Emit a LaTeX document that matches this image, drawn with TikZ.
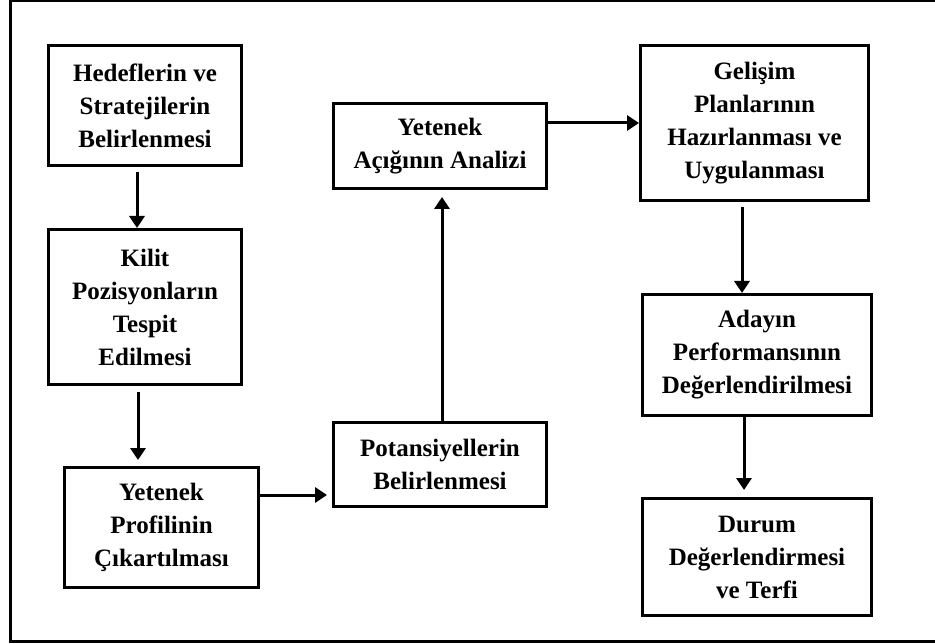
\documentclass[tikz,border=0pt]{standalone}
\usepackage{fontspec}
\setmainfont{Liberation Serif}
\usetikzlibrary{arrows.meta}
\tikzset{
  box/.style={draw, line width=3pt, rectangle, align=center, inner sep=0pt,
    font=\bfseries\fontsize{25}{33}\selectfont},
  arr/.style={line width=3pt, -{Triangle[length=12pt,width=15pt]}},
}
\begin{document}
\begin{tikzpicture}[x=1pt,y=-1pt]
\useasboundingbox (0,0) rectangle (935,644);
% outer frame (open on the right)
\draw[line width=2.5pt] (935,1) -- (10.5,1) -- (10.5,641.3) -- (935,641.3);
% boxes
\node[box, minimum width=193pt, minimum height=120pt] (b1) at (145,105.5) {Hedeflerin ve\\Stratejilerin\\Belirlenmesi};
\node[box, minimum width=193pt, minimum height=155pt] (b2) at (145,307) {Kilit\\Pozisyonların\\Tespit\\Edilmesi};
\node[box, minimum width=194pt, minimum height=120pt] (b3) at (161.5,527.5) {Yetenek\\Profilinin\\Çıkartılması};
\node[box, minimum width=213pt, minimum height=84pt] (b4) at (440,464.5) {Potansiyellerin\\Belirlenmesi};
\node[box, minimum width=213pt, minimum height=85pt] (b5) at (440,146) {Yetenek\\Açığının Analizi};
\node[box, minimum width=228pt, minimum height=155pt] (b6) at (754.5,123) {Gelişim\\Planlarının\\Hazırlanması ve\\Uygulanması};
\node[box, minimum width=229pt, minimum height=121pt] (b7) at (757,355) {Adayın\\Performansının\\Değerlendirilmesi};
\node[box, minimum width=229pt, minimum height=117pt] (b8) at (757,557) {Durum\\Değerlendirmesi\\ve Terfi};
% connectors
\draw[arr, shorten <=5pt] ([xshift=-8pt]b1.south) -- ([xshift=-8pt]b2.north);
\draw[arr, shorten <=6pt, shorten >=6pt] ([xshift=-7pt]b2.south) -- ([xshift=-7pt]b2.south |- b3.north);
\draw[arr, shorten >=5pt] ([yshift=32.5pt]b3.east) -- ([yshift=32.5pt]b3.east -| b4.west);
\draw[arr, shorten >=7pt] ([xshift=2pt]b4.north) -- ([xshift=2pt]b4.north |- b5.south);
\draw[arr] ([yshift=23pt]b5.east) -- ([yshift=23pt]b5.east -| b6.west);
\draw[arr, shorten <=5pt] ([xshift=-12.5pt]b6.south) -- ([xshift=-12.5pt]b6.south |- b7.north);
\draw[arr, shorten >=7pt] ([xshift=-13pt]b7.south) -- ([xshift=-13pt]b8.north);
\end{tikzpicture}
\end{document}
